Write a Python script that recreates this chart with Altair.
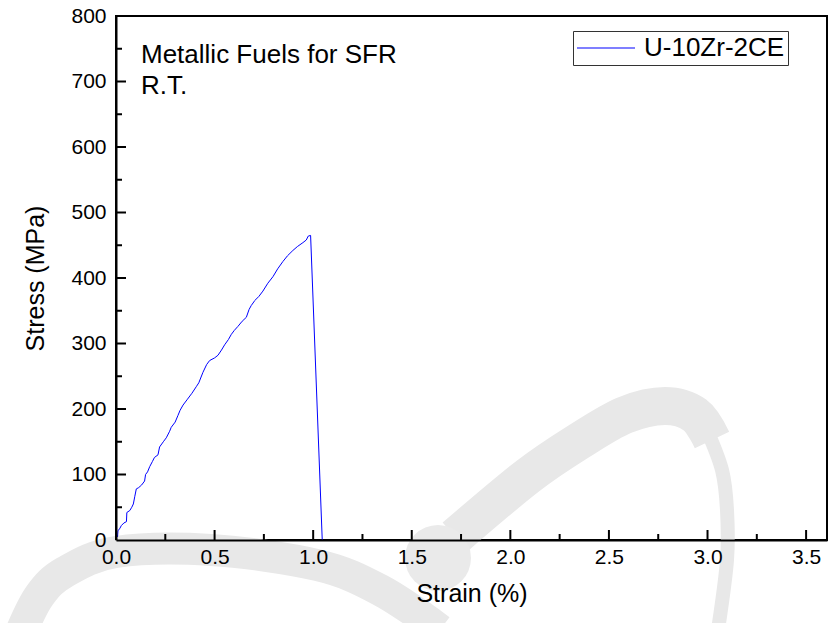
import altair as alt
import pandas as pd

strain = [0.000, 0.002, 0.008, 0.010, 0.020, 0.027, 0.040, 0.053, 0.055, 0.070,
          0.080, 0.088, 0.095, 0.103, 0.115, 0.130, 0.145, 0.150, 0.160, 0.171,
          0.185, 0.195, 0.213, 0.221, 0.240, 0.255, 0.272, 0.280, 0.300, 0.314,
          0.325, 0.340, 0.360, 0.385, 0.407, 0.420, 0.441, 0.460, 0.475, 0.500,
          0.517, 0.535, 0.551, 0.570, 0.585, 0.600, 0.618, 0.640, 0.661, 0.675,
          0.686, 0.705, 0.725, 0.745, 0.770, 0.796, 0.820, 0.846, 0.870, 0.897,
          0.920, 0.948, 0.965, 0.975, 0.987, 1.046]
stress = [0, 8, 5, 14, 18, 22, 26, 28, 42, 45,
          50, 55, 66, 78, 80, 84, 90, 100, 104, 112,
          120, 126, 130, 142, 150, 156, 166, 172, 180, 190,
          198, 206, 214, 224, 234, 240, 256, 268, 274, 278,
          282, 290, 298, 306, 314, 320, 326, 334, 340, 352,
          358, 366, 372, 380, 392, 402, 414, 425, 434, 442,
          448, 454, 458, 464, 465, 0]
series_name = "U-10Zr-2CE"

x_major = [0.0, 0.5, 1.0, 1.5, 2.0, 2.5, 3.0, 3.5]
x_minor = [0.25, 0.75, 1.25, 1.75, 2.25, 2.75, 3.25]
y_major = [0, 100, 200, 300, 400, 500, 600, 700, 800]
y_minor = [50, 150, 250, 350, 450, 550, 650, 750]

annotation = ["Metallic Fuels for SFR", "R.T."]

# light-grey background watermark (page-pixel space), purely decorative
wm_band_a_x = [22, 40, 65, 116, 211, 317, 380, 440]
wm_band_a_y = [630, 595, 572, 552, 550, 565, 590, 630]
wm_band_b1_x = [455, 528, 581, 625, 665, 695, 712]
wm_band_b1_y = [537, 476, 440, 415, 406, 415, 440]
wm_band_b2_x = [706, 722, 727, 727, 718]
wm_band_b2_y = [428, 470, 510, 560, 630]
wm_core_x = [438]
wm_core_y = [558]

W, H = 711, 524
XMAX, YMAX = 3.606, 800
FONT = "Liberation Sans"
PAGE_W, PAGE_H, PAD_L, PAD_T = 828, 623, 116, 16
WM_COLOR = "#e8e8e8"

df = pd.DataFrame({"strain": strain, "stress": stress, "series": series_name})

xs = alt.Scale(domain=[0, XMAX], nice=False, zero=False)
ys = alt.Scale(domain=[0, YMAX], nice=False)

line = alt.Chart(df).mark_line(strokeWidth=1, clip=True).encode(
    x=alt.X("strain:Q", scale=xs, title="Strain (%)",
            axis=alt.Axis(values=x_major, format=".1f", ticks=False, tickSize=0,
                          grid=False, labelPadding=6, titlePadding=14, zindex=2)),
    y=alt.Y("stress:Q", scale=ys, title="Stress (MPa)",
            axis=alt.Axis(values=y_major, ticks=False, tickSize=0, grid=False,
                          labelPadding=10, titlePadding=22, zindex=2)),
    color=alt.Color("series:N", scale=alt.Scale(domain=[series_name], range=["#0000ff"]),
                    legend=alt.Legend(title=None, orient="none", legendX=457, legendY=15,
                                      symbolType="stroke", symbolSize=3364, clipHeight=28,
                                      symbolStrokeWidth=1.2, labelFontSize=26,
                                      labelFont=FONT, strokeColor="#333333",
                                      padding=3, labelOffset=8, fillColor="white")),
    order=alt.Order("idx:Q"),
).transform_window(idx="row_number()")

xmaj = pd.DataFrame({"v": x_major})
xmin = pd.DataFrame({"v": x_minor})
ymaj = pd.DataFrame({"v": y_major[1:-1]})
ymin = pd.DataFrame({"v": y_minor})

tx_major = alt.Chart(xmaj).mark_rule(color="black", strokeWidth=2).encode(
    x=alt.X("v:Q", scale=xs), y=alt.value(H), y2=alt.value(H - 10))
tx_minor = alt.Chart(xmin).mark_rule(color="black", strokeWidth=2).encode(
    x=alt.X("v:Q", scale=xs), y=alt.value(H), y2=alt.value(H - 6))
ty_major = alt.Chart(ymaj).mark_rule(color="black", strokeWidth=2).encode(
    y=alt.Y("v:Q", scale=ys), x=alt.value(0), x2=alt.value(10))
ty_minor = alt.Chart(ymin).mark_rule(color="black", strokeWidth=2).encode(
    y=alt.Y("v:Q", scale=ys), x=alt.value(0), x2=alt.value(6))

ann = alt.Chart(pd.DataFrame({"t": [annotation]})).mark_text(
    align="left", baseline="alphabetic", fontSize=26, font=FONT, lineHeight=31,
    color="black").encode(text="t", x=alt.value(25), y=alt.value(47))

main = alt.layer(tx_major, tx_minor, ty_major, ty_minor, line, ann)

# watermark layer with page-pixel scales
px = alt.Scale(domain=[0, PAGE_W], range=[-PAD_L, PAGE_W - PAD_L])
py = alt.Scale(domain=[0, PAGE_H], range=[-PAD_T, PAGE_H - PAD_T])


def wm_line(xv, yv, width):
    d = pd.DataFrame({"x": xv, "y": yv, "o": list(range(len(xv)))})
    return alt.Chart(d).mark_line(
        color=WM_COLOR, strokeWidth=width, interpolate="cardinal",
        strokeCap="butt", clip=False,
    ).encode(
        x=alt.X("x:Q", scale=px, axis=None),
        y=alt.Y("y:Q", scale=py, axis=None),
        order="o:Q",
    )


wm_core = alt.Chart(pd.DataFrame({"cx": wm_core_x, "cy": wm_core_y})).mark_circle(
    clip=False, opacity=1).encode(
    x=alt.X("cx:Q", scale=px, axis=None),
    y=alt.Y("cy:Q", scale=py, axis=None),
    size=alt.value(4356),
    color=alt.value("#eaeaea"),
)
watermark = alt.layer(
    wm_line(wm_band_a_x, wm_band_a_y, 32),
    wm_line(wm_band_b1_x, wm_band_b1_y, 38),
    wm_line(wm_band_b2_x, wm_band_b2_y, 14),
    wm_core,
)

chart = alt.layer(watermark, main).resolve_scale(
    x="independent", y="independent"
).properties(
    width=W, height=H,
    padding={"left": PAD_L, "top": PAD_T, "right": 1, "bottom": 83},
    autosize=alt.AutoSizeParams(type="none"),
    background="white",
).configure_view(stroke="black", strokeWidth=2).configure_axis(
    domainColor="black", domainWidth=2, labelFont=FONT, titleFont=FONT,
    labelFontSize=21, titleFontSize=25, labelColor="black", titleColor="black",
    titleFontWeight="normal", labelFlush=False,
)

chart.save("out.html", embed_options={"renderer": "svg", "actions": False})
